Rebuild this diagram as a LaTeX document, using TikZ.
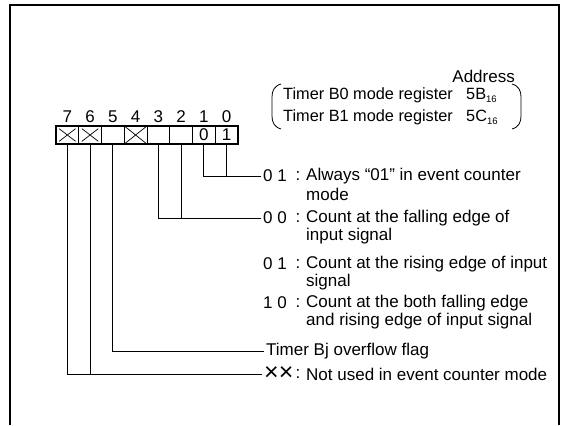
\documentclass[tikz,border=0pt]{standalone}
\usepackage{fontspec}
\setmainfont{Liberation Sans}
\usetikzlibrary{positioning,calc}

\newcommand{\regfont}{\fontsize{17}{19}\selectfont}
\newcommand{\namefont}{\fontsize{16.3}{18}\selectfont}
\newcommand{\subsix}{\raisebox{-0.35ex}{\fontsize{9.5}{9.5}\selectfont 16}}

\tikzset{
  frameline/.style={line width=1.6pt},
  regbox/.style={line width=1.8pt},
  cellbox/.style={draw,line width=0.6pt,minimum width=22.75pt,minimum height=18pt,inner sep=0pt},
  lead/.style={line width=0.8pt},
  code/.style={anchor=west,inner sep=2pt},
  colon/.style={anchor=center,inner sep=0pt},
  desc/.style={anchor=west,inner sep=0pt}
}

\begin{document}
\begin{tikzpicture}[
  x=1pt,y=-1pt,
  line cap=butt,
  every node/.style={font=\regfont}
]
\useasboundingbox (0,0) rectangle (561,425);

% outer frame, open at the bottom
\draw[frameline] (10,425) -- (10,5) -- (559,5) -- (559,425);

% address block
\node[anchor=east,inner sep=0pt] (addr) at (515,76) {Address};
\node[desc,font=\namefont] (tb0) at (283,95) {Timer B0 mode register};
\node[desc,font=\namefont] (ad0) at (466,95) {5B\subsix};
\node[desc,font=\namefont] (tb1) at (283,117) {Timer B1 mode register};
\node[desc,font=\namefont] (ad1) at (466,117) {5C\subsix};
\draw[lead]
  (281,84) .. controls (274,86) and (272,91) .. (272,97)
  -- (272,116) .. controls (272,122) and (274,127) .. (281,129);
\draw[lead]
  (512,84) .. controls (519,86) and (521,91) .. (521,97)
  -- (521,116) .. controls (521,122) and (519,127) .. (512,129);

% register bits
\foreach \i in {0,...,7}{
  \node[cellbox] (b\i) at ({226.6-22.75*\i},135) {};
  \node[above=3pt of b\i,inner sep=0pt] (n\i) {\i};
}
\draw[regbox] (b7.north west) rectangle (b0.south east);
\node at (b1) {0};
\node at (b0) {1};
\foreach \i in {7,6}{
  \draw[line width=0.7pt]
    ([xshift=3.5pt,yshift=-3pt]b\i.north west) -- ([xshift=-3.5pt,yshift=3pt]b\i.south east)
    ([xshift=-3.5pt,yshift=-3pt]b\i.north east) -- ([xshift=3.5pt,yshift=3pt]b\i.south west);
}
\draw[line width=0.7pt] (b4.north west) -- (b4.south east)
                        (b4.north east) -- (b4.south west);

% bits 1,0
\node[code] (r1) at (261,176) {0 1};
\node[colon] (c1) at (298,176) {:};
\node[desc] (d1) at (306,176) {Always “01” in event counter};
\node[desc] (e1) at (306,194) {mode};

% bits 3,2
\node[code] (r2) at (261,218) {0 0};
\node[colon] (c2) at (298,218) {:};
\node[desc] (d2) at (306,218) {Count at the falling edge of};
\node[desc] (e2) at (306,236) {input signal};

\node[code] (r3) at (261,264) {0 1};
\node[colon] (c3) at (298,264) {:};
\node[desc] (d3) at (306,264) {Count at the rising edge of input};
\node[desc] (e3) at (306,282) {signal};

\node[code] (r4) at (261,303) {1 0};
\node[colon] (c4) at (298,303) {:};
\node[desc] (d4) at (306,303) {Count at the both falling edge};
\node[desc] (e4) at (306,321) {and rising edge of input signal};

% bit 5
\node[code] (ovf) at (264,351) {Timer Bj overflow flag};

% bits 7,6
\node[code] (r5) at (262,374) {\fontsize{25}{25}\selectfont ××};
\node[colon] (c5) at (298,374) {:};
\node[desc] (d5) at (306,374) {Not used in event counter mode};

% leaders
\draw[lead] (b1.south) |- (r1.west);
\draw[lead] (b0.south) -- (b0.south |- r1.west);
\draw[lead] (b3.south) |- (r2.west);
\draw[lead] (b2.south) -- (b2.south |- r2.west);
\draw[lead] (b5.south) |- (ovf.west);
\draw[lead] (b7.south) |- (r5.west);
\draw[lead] (b6.south) -- (b6.south |- r5.west);
\end{tikzpicture}
\end{document}
